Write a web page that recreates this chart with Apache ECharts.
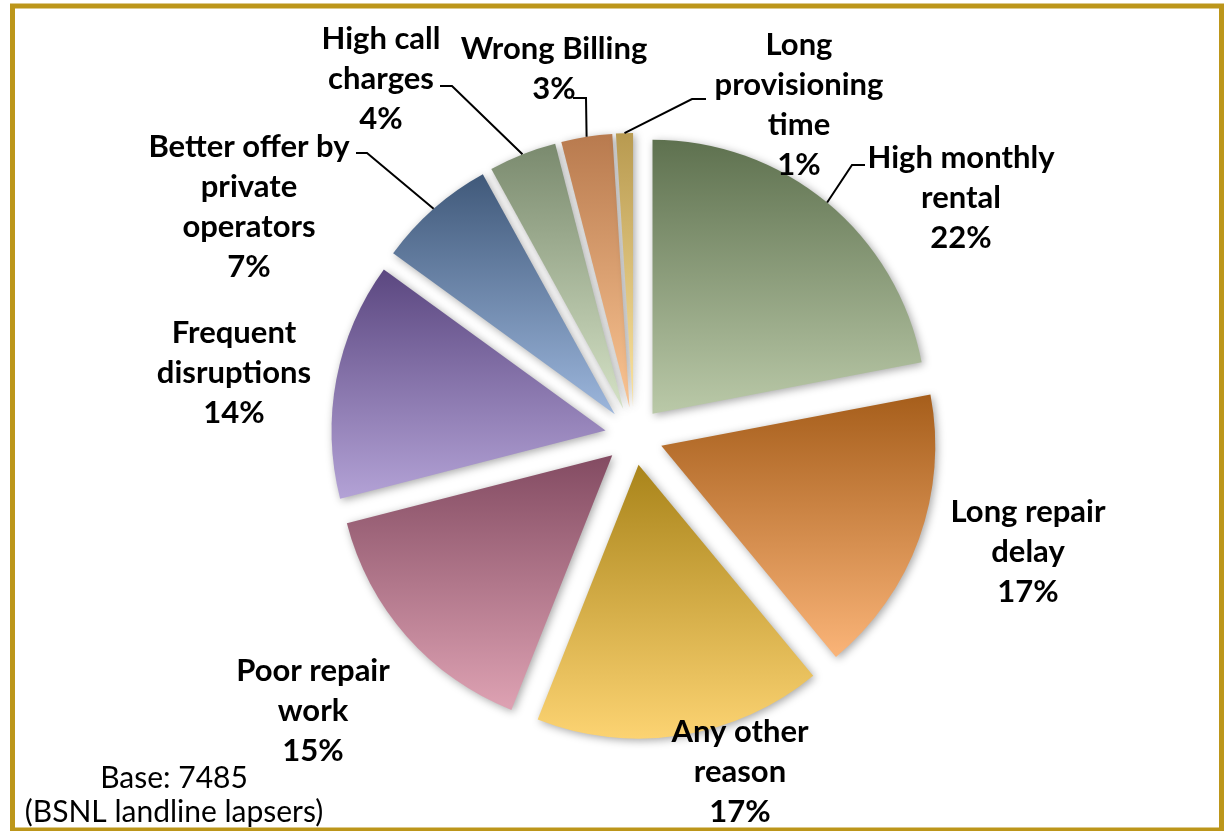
<!DOCTYPE html>
<html>
<head>
<meta charset="utf-8">
<title>BSNL landline lapsers</title>
<script src="https://cdn.jsdelivr.net/npm/echarts@6/dist/echarts.min.js"></script>
<style>
html,body{margin:0;padding:0;background:#fff;}
#pie{width:1226px;height:831px;}
</style>
</head>
<body>
<div id="pie"></div>
<script>
// reasons for lapse, clockwise from 12 o'clock
var categories = ['High monthly\nrental', 'Long repair\ndelay', 'Any other\nreason', 'Poor repair\nwork', 'Frequent\ndisruptions', 'Better offer by\nprivate\noperators', 'High call\ncharges', 'Wrong Billing', 'Long\nprovisioning\ntime'];
var percents = [22, 17, 17, 15, 14, 7, 4, 3, 1];
// gradient top / bottom per slice
var topColors = ['#5e714f', '#a65e1b', '#a9841a', '#834b62', '#5b4780', '#40597a', '#7a8a6e', '#b87a4e', '#b89a50'];
var bottomColors = ['#bac9a8', '#fab478', '#fcd372', '#dea2b3', '#b3a2d6', '#9cb6dc', '#d5e2c6', '#fbc593', '#fce4a0'];

// label centres, and leader line elbow / end (null = no leader line)
var labelPos = [[961, 198], [1028, 552], [740, 772], [313, 711], [234, 373], [249, 207], [381, 79], [554, 69], [799, 105]];
var leaderElbow = [[852, 165], null, null, null, null, [367, 153], [452, 86], [586, 98], [692, 99]];
var leaderEnd = [[865, 165], null, null, null, null, [356, 153], [440, 86], [573, 98], [706, 99]];

var OFFSET = 29;
var pie = echarts.init(document.getElementById('pie'));

var pieData = [];
for (var i = 0; i < categories.length; i++) {
    pieData.push({
        name: categories[i],
        value: percents[i],
        selected: true,
        itemStyle: {
            color: new echarts.graphic.LinearGradient(0, 0, 0, 1, [
                {offset: 0, color: topColors[i]},
                {offset: 1, color: bottomColors[i]}
            ])
        }
    });
}

var frame = [
    {
        type: 'rect',
        shape: {x: 12.5, y: 6, width: 1209, height: 824},
        style: {fill: 'none', stroke: '#bc961a', lineWidth: 5},
        silent: true
    },
    {
        type: 'text',
        x: 174,
        y: 795,
        style: {
            text: 'Base: 7485\n(BSNL landline lapsers)',
            fontFamily: 'Lato',
            fontSize: 30,
            lineHeight: 34,
            fill: '#000',
            align: 'center',
            verticalAlign: 'middle'
        },
        silent: true
    }
];

pie.setOption({
    animation: false,
    graphic: frame,
    series: [{
        type: 'pie',
        center: [634, 436],
        radius: 274,
        startAngle: 90,
        clockwise: true,
        selectedMode: 'multiple',
        selectedOffset: OFFSET,
        itemStyle: {
            shadowBlur: 8,
            shadowColor: 'rgba(0,0,0,0.35)',
            shadowOffsetX: 2,
            shadowOffsetY: 2
        },
        emphasis: {disabled: true},
        label: {show: false},
        labelLine: {show: false},
        data: pieData
    }]
});

// labels + leader lines, anchored on the slice layout ECharts computed
var data = pie.getModel().getSeriesByIndex(0).getData();
var extra = [];
for (var i = 0; i < categories.length; i++) {
    extra.push({
        type: 'text',
        x: labelPos[i][0],
        y: labelPos[i][1],
        z: 10,
        style: {
            text: categories[i] + '\n' + percents[i] + '%',
            fontFamily: 'Lato',
            fontWeight: 'bold',
            fontSize: 31,
            lineHeight: 40,
            fill: '#000',
            align: 'center',
            verticalAlign: 'middle'
        },
        silent: true
    });
    if (leaderElbow[i]) {
        var lay = data.getItemLayout(i);
        var mid = (lay.startAngle + lay.endAngle) / 2;
        var r = lay.r + OFFSET;
        var start = [lay.cx + Math.cos(mid) * r, lay.cy + Math.sin(mid) * r];
        extra.push({
            type: 'polyline',
            z: 10,
            shape: {points: [start, leaderElbow[i], leaderEnd[i]]},
            style: {stroke: '#000', lineWidth: 2, fill: null},
            silent: true
        });
    }
}
pie.setOption({graphic: frame.concat(extra)});
</script>
</body>
</html>
